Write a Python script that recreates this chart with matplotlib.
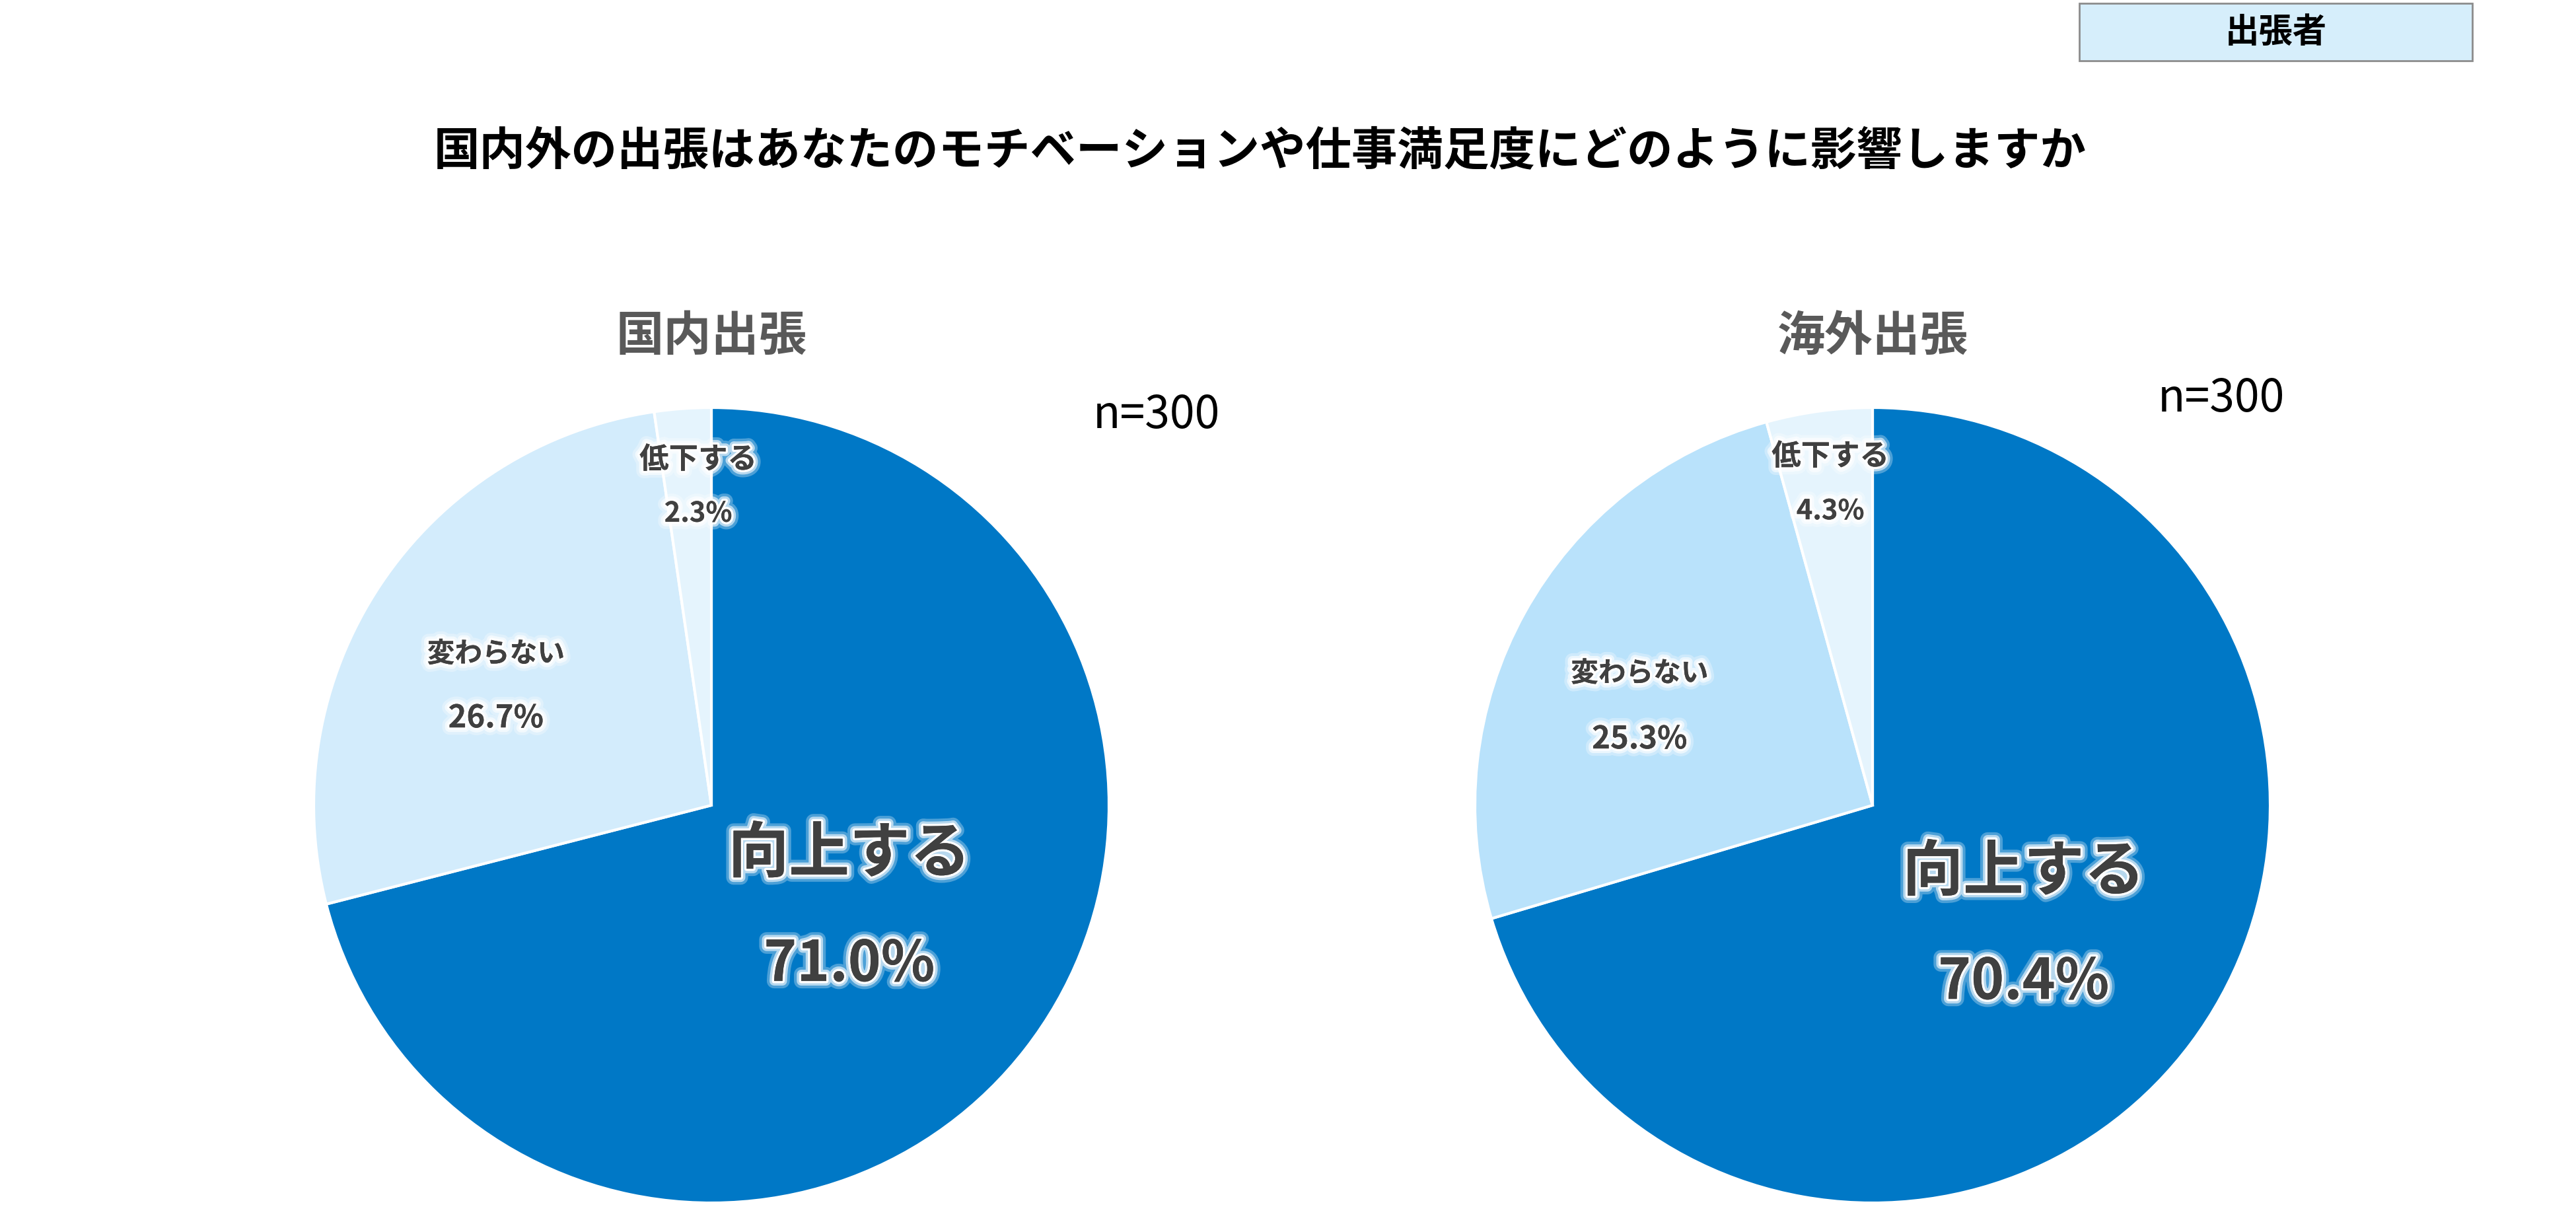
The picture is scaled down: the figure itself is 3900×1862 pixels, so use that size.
import matplotlib
matplotlib.use("Agg")
import matplotlib.pyplot as plt
import matplotlib.patheffects as pe
from matplotlib.patches import Rectangle

plt.rcParams['font.family'] = ['Noto Sans CJK JP', 'DejaVu Sans']

title = "国内外の出張はあなたのモチベーションや仕事満足度にどのように影響しますか"
badge = "出張者"
categories = ["向上する", "変わらない", "低下する"]
pie_titles = ["国内出張", "海外出張"]
domestic = [71.0, 26.7, 2.3]
overseas = [70.4, 25.3, 4.3]
n_labels = ["n=300", "n=300"]

blue = "#0078C6"
colors_dom = [blue, "#D3ECFC", "#E5F4FD"]
colors_ovs = [blue, "#B9E2FB", "#E5F4FD"]

W, H = 3900, 1862
fig = plt.figure(figsize=(W / 100, H / 100), dpi=100)
fig.patch.set_facecolor("white")

R = 602
centers = [(1077, 1219), (2835, 1219)]

# label positions (data coords, per category: name line, value line)
label_pos = [
    [((0.347, -0.123), (0.347, -0.400)), ((-0.542, 0.380), (-0.542, 0.219)), ((-0.033, 0.869), (-0.033, 0.733))],
    [((0.380, -0.169), (0.380, -0.445)), ((-0.586, 0.331), (-0.586, 0.166)), ((-0.106, 0.877), (-0.106, 0.739))],
]
label_sizes = [(66, 61), (30, 34), (32, 30)]

glow = [pe.withStroke(linewidth=16, foreground="white", alpha=0.3),
        pe.withStroke(linewidth=10, foreground="white", alpha=0.6),
        pe.withStroke(linewidth=5, foreground="white"),
        pe.Normal()]

for i, (vals, cols) in enumerate([(domestic, colors_dom), (overseas, colors_ovs)]):
    cx, cy = centers[i]
    ax = fig.add_axes([(cx - R) / W, (H - cy - R) / H, 2 * R / W, 2 * R / H])
    ax.pie(vals, colors=cols, startangle=90, counterclock=False, radius=1,
           wedgeprops=dict(edgecolor="white", linewidth=3))
    ax.set_xlim(-1, 1)
    ax.set_ylim(-1, 1)
    ax.set_aspect("equal")
    ax.axis("off")
    for k, cat in enumerate(categories):
        (p1, p2) = label_pos[i][k]
        fs1, fs2 = label_sizes[k]
        ax.text(p1[0], p1[1], cat, ha="center", va="center", fontsize=fs1,
                fontweight="bold", color="#404040", path_effects=glow)
        ax.text(p2[0], p2[1], f"{vals[k]:.1f}%", ha="center", va="center", fontsize=fs2,
                fontweight="bold", color="#404040", path_effects=glow)
    # pie title
    fig.text(cx / W, 1 - 510 / H, pie_titles[i], ha="center", va="center",
             fontsize=52, fontweight="bold", color="#595959")

fig.text(1751 / W, 1 - 629 / H, n_labels[0], ha="center", va="center", fontsize=49, color="black")
fig.text(3363 / W, 1 - 604 / H, n_labels[1], ha="center", va="center", fontsize=49, color="black")

fig.text(1908 / W, 1 - 229 / H, title, ha="center", va="center", fontsize=50,
         fontweight="bold", color="black")

# badge box
bx0, bx1, by0, by1 = 3148, 3743, 5, 92
fig.patches.append(Rectangle((bx0 / W, 1 - by1 / H), (bx1 - bx0) / W, (by1 - by0) / H,
                             transform=fig.transFigure, facecolor="#D6EEFB",
                             edgecolor="#8C8C8C", linewidth=2))
fig.text((bx0 + bx1) / 2 / W, 1 - (by0 + by1) / 2 / H, badge, ha="center", va="center",
         fontsize=37, fontweight="bold", color="black")

fig.savefig("out.png", dpi=100, facecolor="white")
